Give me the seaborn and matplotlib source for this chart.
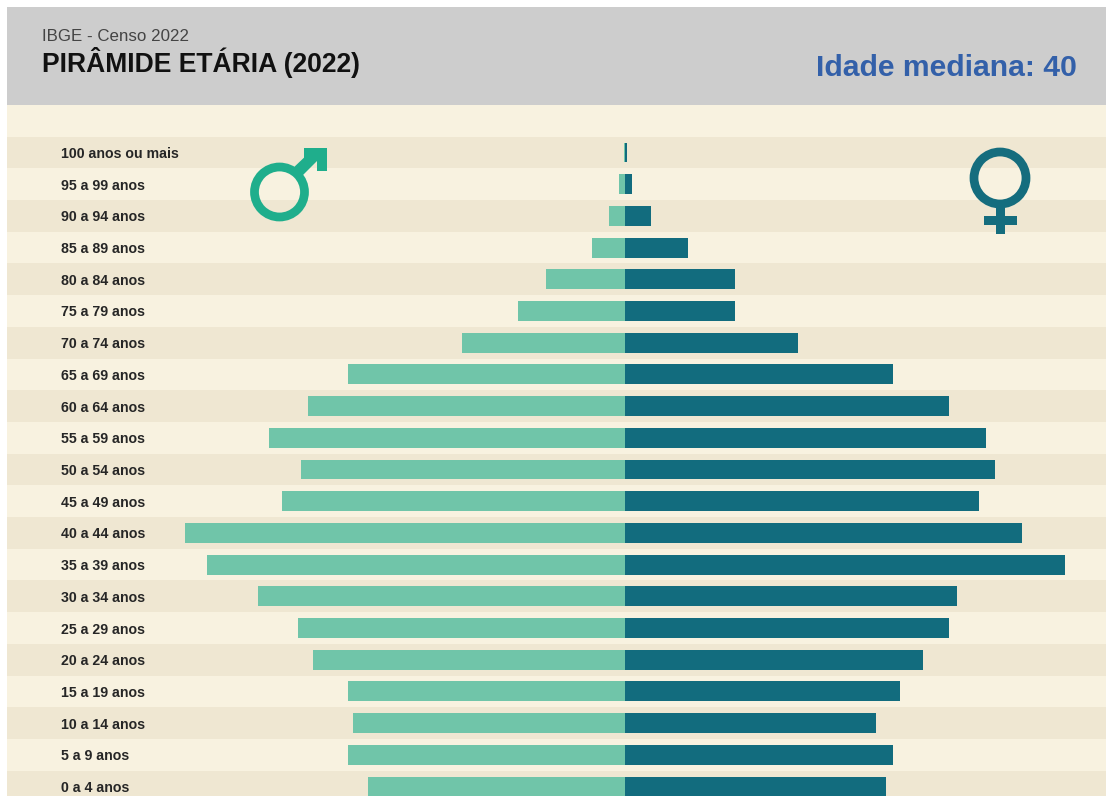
import matplotlib
matplotlib.use("Agg")
import matplotlib.pyplot as plt
from matplotlib.patches import Circle, Rectangle, Polygon
import pandas as pd
import seaborn as sns

age_groups = ["100 anos ou mais", "95 a 99 anos", "90 a 94 anos", "85 a 89 anos", "80 a 84 anos",
              "75 a 79 anos", "70 a 74 anos", "65 a 69 anos", "60 a 64 anos", "55 a 59 anos",
              "50 a 54 anos", "45 a 49 anos", "40 a 44 anos", "35 a 39 anos", "30 a 34 anos",
              "25 a 29 anos", "20 a 24 anos", "15 a 19 anos", "10 a 14 anos", "5 a 9 anos", "0 a 4 anos"]
male = [1, 6, 16, 33, 79, 107, 163, 277, 317, 356, 324, 343, 440, 418, 367, 327, 312, 277, 272, 277, 257]
female = [2, 7, 26, 63, 110, 110, 173, 268, 324, 361, 370, 354, 397, 440, 332, 324, 298, 275, 251, 268, 261]

W, H = 1106, 796
sns.set_theme(style="white")
plt.rcParams["font.family"] = ["Liberation Sans", "DejaVu Sans"]
fig = plt.figure(figsize=(W / 100, H / 100), dpi=100, facecolor="white")

ROW = 31.7
top_row_y = 152.5
ax = fig.add_axes([7 / W, 0, (W - 7) / W, (H - 105) / H], facecolor="#F8F2E0")

df = pd.concat([
    pd.DataFrame({"idade": age_groups, "valor": [-v for v in male], "sexo": "Homens"}),
    pd.DataFrame({"idade": age_groups, "valor": female, "sexo": "Mulheres"}),
])
sns.barplot(data=df, y="idade", x="valor", hue="sexo", order=age_groups, dodge=False, width=0.63,
            palette={"Homens": "#70C5A9", "Mulheres": "#126C7E"}, legend=False, saturation=1, ax=ax,
            zorder=3, linewidth=0)

ax.set_xlim(-618, 481)
ax.set_ylim((H - top_row_y) / ROW, (105 - top_row_y) / ROW)
for i in range(0, len(age_groups), 2):
    ax.axhspan(i - 0.5, i + 0.5, color="#EFE7D2", lw=0, zorder=0)

ax.set_xlabel("")
ax.set_ylabel("")
ax.set_xticks([])
ax.tick_params(axis="y", length=0, pad=-38.9)
for lab in ax.get_yticklabels():
    lab.set_ha("left")
    lab.set_fontsize(10.2)
    lab.set_fontweight("bold")
    lab.set_color("#262626")
sns.despine(ax=ax, left=True, bottom=True)

# Header and decorative symbols drawn on a pixel-coordinate overlay
ov = fig.add_axes([0, 0, 1, 1], facecolor="none")
ov.set_xlim(0, W)
ov.set_ylim(H, 0)
ov.axis("off")
ov.add_patch(Rectangle((7, 7), W - 7, 98, color="#CDCDCD", lw=0))
ov.text(42, 36.5, "IBGE - Censo 2022", fontsize=12.2, color="#444444", va="center", ha="left")
ov.text(42, 62, "PIRÂMIDE ETÁRIA (2022)", fontsize=19.1, fontweight="bold", color="#111111", va="center", ha="left")
ov.text(1077, 67.5, "Idade mediana: 40", fontsize=21.7, fontweight="bold", color="#3360A9", va="center", ha="right")

c_m = "#1FAE8C"
ov.add_patch(Circle((279.5, 192), 25, fill=False, ec=c_m, lw=6.3))
ov.add_patch(Polygon([(291, 170), (311, 151), (319, 159), (299, 179)], color=c_m, lw=0))
ov.add_patch(Polygon([(304, 148), (327, 148), (327, 171), (317, 171), (317, 158), (304, 158)], color=c_m, lw=0))

c_f = "#156D7E"
ov.add_patch(Circle((1000, 178), 26, fill=False, ec=c_f, lw=6.3))
ov.add_patch(Rectangle((995.5, 203), 9.5, 31, color=c_f, lw=0))
ov.add_patch(Rectangle((984, 216), 33, 9, color=c_f, lw=0))

fig.savefig("out.png", dpi=100, facecolor="white")
